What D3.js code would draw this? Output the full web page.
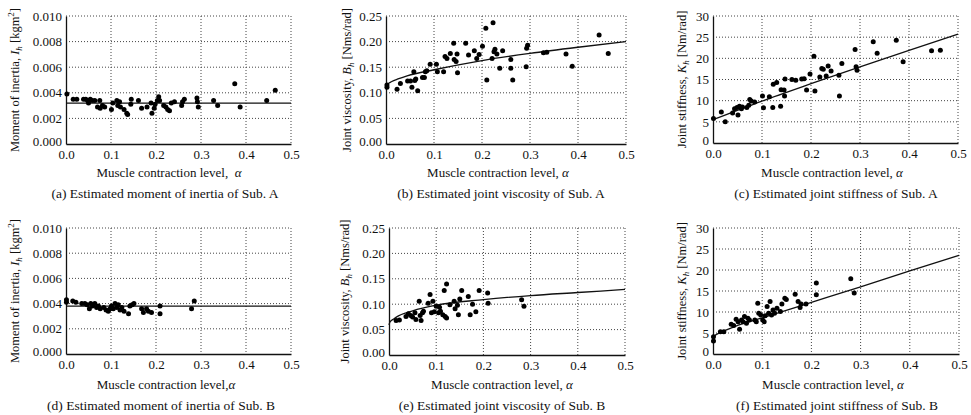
<!DOCTYPE html>
<html>
<head>
<meta charset="utf-8">
<script src="https://cdn.jsdelivr.net/npm/d3@7"></script>
<style>
body { margin: 0; background: #fff; }
svg text { font-family: "Liberation Serif", "Times New Roman", serif; fill: #111; }
</style>
</head>
<body>
<script>
// ---- data ----
const xTicks = [0, 0.1, 0.2, 0.3, 0.4, 0.5];
const inertiaTicks = [0, 0.002, 0.004, 0.006, 0.008, 0.010];
const viscosityTicks = [0, 0.05, 0.10, 0.15, 0.20, 0.25];
const stiffnessTicks = [0, 5, 10, 15, 20, 25, 30];

// Sub. A, moment of inertia
const aAlpha = [0.002, 0.016, 0.024, 0.039, 0.044, 0.048, 0.050, 0.054, 0.058, 0.064, 0.070, 0.075, 0.076, 0.081, 0.086,
  0.101, 0.104, 0.113, 0.115, 0.119, 0.121, 0.129, 0.135, 0.137, 0.144, 0.145, 0.161, 0.168, 0.180, 0.189, 0.191, 0.196,
  0.198, 0.203, 0.206, 0.208, 0.217, 0.222, 0.226, 0.230, 0.234, 0.241, 0.257, 0.259, 0.263, 0.291, 0.292, 0.294, 0.328,
  0.337, 0.375, 0.387, 0.446, 0.465];
const aInertia = [0.0039, 0.0035, 0.0035, 0.0035, 0.0035, 0.0034, 0.0032, 0.0035, 0.0034, 0.0034, 0.0029, 0.0034, 0.0028, 0.0030, 0.0029,
  0.0027, 0.0032, 0.0034, 0.0030, 0.0033, 0.0029, 0.0027, 0.0024, 0.0023, 0.0031, 0.0035, 0.0034, 0.0028, 0.0029, 0.0032, 0.0024, 0.0028,
  0.0031, 0.0034, 0.0037, 0.0034, 0.0030, 0.0029, 0.0027, 0.0026, 0.0032, 0.0033, 0.0030, 0.0033, 0.0035, 0.0036, 0.0033, 0.0029, 0.0034,
  0.0030, 0.0047, 0.0029, 0.0034, 0.0042];
const aInertiaFitX = [0, 0.5];
const aInertiaFitY = [0.0032, 0.0032];

// Sub. A, joint viscosity
const bAlpha = [0.002, 0.002, 0.023, 0.030, 0.045, 0.051, 0.054, 0.058, 0.060, 0.062, 0.066, 0.076, 0.080, 0.082, 0.085, 0.092,
  0.105, 0.107, 0.120, 0.123, 0.127, 0.134, 0.141, 0.142, 0.146, 0.148, 0.149, 0.166, 0.172, 0.184, 0.189, 0.194, 0.201,
  0.208, 0.210, 0.221, 0.223, 0.225, 0.227, 0.231, 0.237, 0.243, 0.260, 0.260, 0.264, 0.292, 0.293, 0.295, 0.328, 0.335,
  0.375, 0.388, 0.444, 0.463];
const bViscosity = [0.111, 0.115, 0.107, 0.118, 0.123, 0.123, 0.111, 0.141, 0.124, 0.127, 0.104, 0.130, 0.130, 0.141, 0.143, 0.156,
  0.156, 0.141, 0.141, 0.171, 0.167, 0.177, 0.197, 0.165, 0.161, 0.176, 0.139, 0.197, 0.174, 0.182, 0.167, 0.175, 0.191,
  0.226, 0.125, 0.167, 0.237, 0.180, 0.185, 0.176, 0.148, 0.182, 0.165, 0.148, 0.125, 0.151, 0.187, 0.193, 0.178, 0.179,
  0.176, 0.152, 0.213, 0.177];
const bViscosityFitX = [0, 0.004, 0.012, 0.025, 0.044, 0.1, 0.2, 0.3, 0.4, 0.5];
const bViscosityFitY = [0.110, 0.117, 0.122, 0.127, 0.133, 0.145, 0.163, 0.177, 0.189, 0.200];

// Sub. A, joint stiffness
const cAlpha = [0.001, 0.017, 0.025, 0.040, 0.044, 0.049, 0.051, 0.054, 0.058, 0.060, 0.069, 0.073, 0.075, 0.078, 0.085,
  0.101, 0.103, 0.115, 0.122, 0.123, 0.130, 0.138, 0.139, 0.145, 0.146, 0.147, 0.161, 0.169, 0.181, 0.186, 0.191, 0.198,
  0.206, 0.208, 0.218, 0.222, 0.225, 0.231, 0.235, 0.241, 0.257, 0.258, 0.263, 0.290, 0.292, 0.294, 0.327, 0.335, 0.374,
  0.388, 0.446, 0.464];
const cStiffness = [5.8, 7.3, 5.0, 7.1, 8.1, 8.4, 6.6, 8.7, 8.1, 8.5, 8.4, 8.9, 10.3, 9.9, 9.7,
  11.1, 8.3, 10.9, 8.4, 13.9, 14.3, 8.7, 12.6, 12.5, 11.1, 15.1, 15.0, 14.8, 15.1, 15.2, 12.5, 16.3,
  20.5, 12.3, 15.6, 17.6, 17.4, 15.8, 18.2, 17.0, 16.0, 11.1, 18.8, 22.1, 18.0, 17.2, 23.9, 21.2, 24.3,
  19.2, 21.8, 21.9];
const cStiffnessFitX = [0, 0.1, 0.2, 0.3, 0.4, 0.5];
const cStiffnessFitY = [5.5, 9.9, 14.0, 18.0, 21.9, 25.7];

// Sub. B, moment of inertia
const dAlpha = [0.001, 0.001, 0.015, 0.022, 0.035, 0.042, 0.047, 0.052, 0.055, 0.059, 0.064, 0.068, 0.072, 0.076, 0.084,
  0.089, 0.094, 0.098, 0.101, 0.105, 0.109, 0.113, 0.116, 0.120, 0.124, 0.129, 0.139, 0.142, 0.147, 0.151, 0.168, 0.172,
  0.179, 0.183, 0.190, 0.209, 0.209, 0.279, 0.285];
const dInertia = [0.0043, 0.0041, 0.0042, 0.0041, 0.0040, 0.0040, 0.0039, 0.0036, 0.0040, 0.0038, 0.0040, 0.0037, 0.0038, 0.0036, 0.0037,
  0.0035, 0.0034, 0.0036, 0.0038, 0.0036, 0.0040, 0.0037, 0.0039, 0.0035, 0.0037, 0.0034, 0.0032, 0.0038, 0.0039, 0.0040, 0.0036, 0.0033,
  0.0036, 0.0034, 0.0033, 0.0038, 0.0032, 0.0036, 0.0042];
const dInertiaFitX = [0, 0.5];
const dInertiaFitY = [0.0038, 0.0038];

// Sub. B, joint viscosity
const eAlpha = [0.015, 0.022, 0.036, 0.041, 0.046, 0.050, 0.055, 0.057, 0.064, 0.066, 0.068, 0.071, 0.073, 0.083, 0.087,
  0.090, 0.093, 0.096, 0.100, 0.105, 0.107, 0.109, 0.114, 0.117, 0.119, 0.122, 0.122, 0.129, 0.138, 0.140, 0.145, 0.147,
  0.150, 0.154, 0.168, 0.172, 0.177, 0.184, 0.191, 0.209, 0.210, 0.281, 0.286];
const eViscosity = [0.068, 0.069, 0.076, 0.081, 0.078, 0.075, 0.083, 0.070, 0.106, 0.078, 0.068, 0.083, 0.086, 0.102, 0.119,
  0.083, 0.106, 0.085, 0.096, 0.083, 0.094, 0.086, 0.079, 0.127, 0.076, 0.140, 0.073, 0.099, 0.106, 0.091, 0.098, 0.079,
  0.110, 0.127, 0.115, 0.079, 0.100, 0.085, 0.127, 0.122, 0.102, 0.109, 0.096];
const eViscosityFitX = [0, 0.002, 0.01, 0.02, 0.05, 0.1, 0.2, 0.3, 0.4, 0.5];
const eViscosityFitY = [0.059, 0.065, 0.071, 0.077, 0.087, 0.098, 0.109, 0.117, 0.123, 0.129];

// Sub. B, joint stiffness
const fAlpha = [0.001, 0.001, 0.015, 0.022, 0.037, 0.042, 0.047, 0.051, 0.054, 0.058, 0.061, 0.064, 0.068, 0.071, 0.074,
  0.085, 0.088, 0.091, 0.093, 0.097, 0.101, 0.104, 0.106, 0.110, 0.113, 0.116, 0.119, 0.122, 0.125, 0.130, 0.137, 0.140,
  0.146, 0.149, 0.167, 0.173, 0.177, 0.179, 0.189, 0.210, 0.210, 0.280, 0.287];
const fStiffness = [3.1, 4.1, 5.3, 5.3, 7.1, 6.8, 8.3, 7.7, 5.9, 8.1, 7.7, 8.9, 7.3, 8.5, 8.1,
  8.1, 7.7, 12.1, 9.7, 9.3, 8.1, 7.7, 9.1, 11.3, 9.7, 12.5, 9.3, 10.5, 9.7, 10.9, 10.1, 11.9,
  13.3, 13.0, 14.2, 12.5, 11.1, 11.9, 11.9, 16.9, 14.1, 17.9, 14.5];
const fStiffnessFitX = [0, 0.004, 0.015, 0.05, 0.1, 0.2, 0.3, 0.4, 0.5];
const fStiffnessFitY = [3.6, 4.4, 5.1, 6.8, 8.6, 12.3, 16.0, 19.8, 23.5];

// ---- layout ----
const W = 971, H = 415;
const svg = d3.select("body").append("svg").attr("width", W).attr("height", H);

const panels = [
  { xs: aAlpha, ys: aInertia, fx: aInertiaFitX, fy: aInertiaFitY, ticks: inertiaTicks, fmt: ".3f",
    box: [66, 16, 291, 144], ylabX: 15, xlabX: 169, capX: 165, row: 0,
    ylab: ["Moment of inertia, ", "I", "h", " [kgm", "2", "]"], xlab: "Muscle contraction level,\u00a0 ",
    cap: "(a) Estimated moment of inertia of Sub. A" },
  { xs: bAlpha, ys: bViscosity, fx: bViscosityFitX, fy: bViscosityFitY, ticks: viscosityTicks, fmt: ".2f",
    box: [386, 16, 626, 144], ylabX: 347, xlabX: 498, capX: 501, row: 0,
    ylab: ["Joint viscosity, ", "B", "h", " [Nms/rad]"], xlab: "Muscle contraction level, ",
    cap: "(b) Estimated joint viscosity of Sub. A" },
  { xs: cAlpha, ys: cStiffness, fx: cStiffnessFitX, fy: cStiffnessFitY, ticks: stiffnessTicks, fmt: "d",
    box: [713, 16, 958, 143], ylabX: 682, xlabX: 832, capX: 836, row: 0,
    ylab: ["Joint stiffness, ", "K", "h", " [Nm/rad]"], xlab: "Muscle contraction level, ",
    cap: "(c) Estimated joint stiffness of Sub. A" },
  { xs: dAlpha, ys: dInertia, fx: dInertiaFitX, fy: dInertiaFitY, ticks: inertiaTicks, fmt: ".3f",
    box: [66, 228, 291, 354], ylabX: 15, xlabX: 166, capX: 161, row: 1,
    ylab: ["Moment of inertia, ", "I", "h", " [kgm", "2", "]"], xlab: "Muscle contraction level,",
    cap: "(d) Estimated moment of inertia of Sub. B" },
  { xs: eAlpha, ys: eViscosity, fx: eViscosityFitX, fy: eViscosityFitY, ticks: viscosityTicks, fmt: ".2f",
    box: [389, 228, 625, 355], ylabX: 345, xlabX: 502, capX: 502, row: 1,
    ylab: ["Joint viscosity, ", "B", "h", " [Nms/rad]"], xlab: "Muscle contraction level, ",
    cap: "(e) Estimated joint viscosity of Sub. B" },
  { xs: fAlpha, ys: fStiffness, fx: fStiffnessFitX, fy: fStiffnessFitY, ticks: stiffnessTicks, fmt: "d",
    box: [713, 228, 959, 354], ylabX: 682, xlabX: 833, capX: 837, row: 1,
    ylab: ["Joint stiffness, ", "K", "h", " [Nm/rad]"], xlab: "Muscle contraction level, ",
    cap: "(f) Estimated joint stiffness of Sub. B" }
];

const xlabY = [177, 389];
const capY = [198, 410];

panels.forEach(p => {
  const [x0, y0, x1, y1] = p.box;
  const yMax = p.ticks[p.ticks.length - 1];
  const x = d3.scaleLinear().domain([0, 0.5]).range([x0, x1]);
  const y = d3.scaleLinear().domain([0, yMax]).range([y1, y0]);
  const g = svg.append("g");

  // dotted grid (also draws top and right border)
  g.selectAll(".vg").data(xTicks.slice(1)).enter().append("line")
    .attr("x1", d => x(d)).attr("x2", d => x(d)).attr("y1", y0).attr("y2", y1)
    .attr("stroke", "#444").attr("stroke-width", 1).attr("stroke-dasharray", "1,2");
  g.selectAll(".hg").data(p.ticks.slice(1)).enter().append("line")
    .attr("x1", x0).attr("x2", x1).attr("y1", d => y(d)).attr("y2", d => y(d))
    .attr("stroke", "#444").attr("stroke-width", 1).attr("stroke-dasharray", "1,2");

  // axes
  const xAxis = g.append("g").attr("transform", `translate(0,${y1})`)
    .call(d3.axisBottom(x).tickValues(xTicks).tickFormat(d3.format(".1f")).tickSize(0).tickPadding(6));
  const yAxis = g.append("g").attr("transform", `translate(${x0},0)`)
    .call(d3.axisLeft(y).tickValues(p.ticks).tickFormat(d3.format(p.fmt)).tickSize(0).tickPadding(4));
  [xAxis, yAxis].forEach(a => {
    a.select(".domain").attr("stroke", "#111").attr("stroke-width", 1.3);
    a.selectAll("text").attr("font-size", 13).attr("font-family", "Liberation Serif").attr("fill", "#222");
  });
  // lift the lowest y label a little so it clears the 0.0 below it
  yAxis.selectAll(".tick text").filter(d => d === 0).attr("dy", "0.1em");

  // fitted curve
  const line = d3.line().x(d => x(d[0])).y(d => y(d[1])).curve(d3.curveMonotoneX);
  g.append("path").datum(d3.zip(p.fx, p.fy)).attr("d", line)
    .attr("fill", "none").attr("stroke", "#111").attr("stroke-width", 1.3);

  // measured points
  g.selectAll("circle").data(d3.zip(p.xs, p.ys)).enter().append("circle")
    .attr("cx", d => x(d[0])).attr("cy", d => y(d[1])).attr("r", 2.5).attr("fill", "#000");

  // y label with italic symbol and subscript
  const cy = (y0 + y1) / 2;
  const yl = g.append("text").attr("transform", `translate(${p.ylabX},${cy}) rotate(-90)`)
    .attr("text-anchor", "middle").attr("dy", "0.35em").attr("font-size", 12.5);
  yl.append("tspan").text(p.ylab[0]);
  yl.append("tspan").attr("font-style", "italic").text(p.ylab[1]);
  yl.append("tspan").attr("font-size", 9).attr("font-style", "italic").attr("dy", 3).text(p.ylab[2]);
  yl.append("tspan").attr("dy", -3).text(p.ylab[3]);
  if (p.ylab.length > 4) {
    yl.append("tspan").attr("font-size", 9).attr("dy", -5).text(p.ylab[4]);
    yl.append("tspan").attr("dy", 5).text(p.ylab[5]);
  }

  // x label
  const xl = g.append("text").attr("x", p.xlabX).attr("y", xlabY[p.row])
    .attr("text-anchor", "middle").attr("font-size", 13);
  xl.append("tspan").text(p.xlab);
  xl.append("tspan").attr("font-style", "italic").text("\u03b1");

  // caption
  g.append("text").attr("x", p.capX).attr("y", capY[p.row])
    .attr("text-anchor", "middle").attr("font-size", 13.5).text(p.cap);
});
</script>
</body>
</html>
